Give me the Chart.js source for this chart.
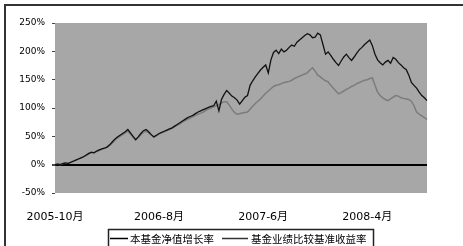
<!DOCTYPE html>
<html>
<head>
<meta charset="utf-8">
<script src="https://cdn.jsdelivr.net/npm/chart.js@4/dist/chart.umd.min.js"></script>
<style>
  html, body { margin: 0; padding: 0; background: #fff; }
  #wrap { width: 463px; height: 246px; position: relative; }
</style>
</head>
<body>
<div id="wrap"><canvas id="myChart"></canvas></div>
<script>
// weekly values, % since start
let fundName = "本基金净值增长率";
let benchName = "基金业绩比较基准收益率";
let tickLabels = ["2005-10月", "2006-8月", "2007-6月", "2008-4月"];
let tickEvery = 40;
let yTicks = [-50, 0, 50, 100, 150, 200, 250];

let fund = [
  0, 1, 0, 2, 3, 2, 4, 6, 8, 10, 12, 14, 17, 20, 22, 21, 24, 26, 28, 29,
  31, 35, 40, 45, 49, 52, 55, 58, 62, 56, 50, 44, 49, 55, 60, 62, 58, 53, 49, 52,
  55, 57, 59, 61, 63, 65, 68, 71, 74, 77, 80, 83, 85, 87, 90, 93, 95, 97, 99, 101,
  103, 104, 112, 95, 115, 124, 131, 126, 121, 118, 114, 107, 113, 119, 122, 140, 148, 155, 161, 167,
  172, 176, 162, 185, 198, 202, 196, 204, 199, 202, 207, 211, 209, 216, 220, 224, 228, 231, 229, 224,
  225, 232, 229, 212, 195, 199, 193, 186, 180, 175, 183, 190, 195, 189, 184, 190, 197, 203, 207, 212,
  216, 220, 210, 195, 185, 180, 176, 181, 184, 179, 189, 186, 180, 176, 171, 168, 158, 145, 140, 135,
  128, 122, 118, 113
];

let bench = [
  0, 1, 0, 2, 3, 3, 4, 6, 8, 10, 12, 14, 16, 19, 21, 21, 23, 25, 27, 29,
  31, 34, 38, 43, 47, 50, 53, 56, 59, 54, 49, 44, 48, 53, 57, 59, 56, 52, 49, 51,
  54, 56, 58, 60, 62, 64, 67, 70, 72, 75, 78, 80, 82, 85, 87, 89, 91, 93, 96, 98,
  100, 102, 104, 106, 109, 111, 111, 105, 98, 92, 89, 90, 91, 92, 93, 98, 103, 108, 112, 116,
  121, 126, 130, 134, 138, 140, 141, 143, 145, 146, 147, 149, 152, 154, 156, 158, 160, 162, 167, 171,
  165, 158, 155, 151, 148, 146, 140, 135, 130, 125, 127, 130, 133, 135, 138, 140, 143, 145, 147, 149,
  150, 152, 153, 140, 128, 122, 118, 115, 113, 116, 119, 122, 121, 118, 117, 116, 115, 112, 104, 93,
  89, 86, 83, 80
];

let labels = fund.map((v, i) => i);

// grey plot area + frame + boxed legend
const decor = {
  id: 'decor',
  beforeDraw(chart) {
    const {ctx, chartArea: a} = chart;
    ctx.save();
    ctx.fillStyle = '#a7a7a7';
    ctx.fillRect(a.left, a.top, a.right - a.left, a.bottom - a.top);
    ctx.restore();
  },
  afterDraw(chart) {
    const ctx = chart.ctx;
    ctx.save();
    // outer frame
    ctx.strokeStyle = '#333';
    ctx.lineWidth = 2;
    ctx.beginPath();
    ctx.moveTo(5, 260);
    ctx.lineTo(5, 5);
    ctx.lineTo(470, 5);
    ctx.stroke();
    // legend box
    ctx.lineWidth = 1.5;
    ctx.strokeStyle = '#222';
    ctx.strokeRect(108.5, 229.5, 265, 30);
    const ds = chart.data.datasets;
    const items = [[110, 128, 130], [222, 248, 251]];
    ctx.font = '10.5px "Noto Sans CJK SC", sans-serif';
    ctx.textBaseline = 'middle';
    ctx.fillStyle = '#000';
    items.forEach((it, i) => {
      ctx.strokeStyle = i == 0 ? '#000' : '#333';
      ctx.lineWidth = 1.5;
      ctx.beginPath();
      ctx.moveTo(it[0], 238.5);
      ctx.lineTo(it[1], 238.5);
      ctx.stroke();
      ctx.fillText(ds[i].label, it[2], 239);
    });
    ctx.restore();
  }
};

var chart = new Chart(document.getElementById('myChart'), {
  type: 'line',
  data: {
    labels: labels,
    datasets: [{
      label: fundName,
      data: fund,
      borderColor: '#111',
      borderWidth: 1.3,
      pointRadius: 0,
      tension: 0
    }, {
      label: benchName,
      data: bench,
      borderColor: '#7c7c7c',
      borderWidth: 1.5,
      pointRadius: 0,
      tension: 0
    }]
  },
  options: {
    responsive: true,
    maintainAspectRatio: false,
    animation: false,
    events: [],
    layout: { padding: { top: 23, right: 36, left: 0, bottom: 23 } },
    plugins: { legend: { display: false }, tooltip: { enabled: false } },
    scales: {
      x: {
        type: 'category',
        offset: false,
        border: { display: false },
        grid: { display: false },
        afterFit: s => { s.height = 30; },
        ticks: {
          autoSkip: false,
          maxRotation: 0,
          padding: 10,
          color: '#000',
          font: { family: '"DejaVu Sans", "Noto Sans CJK SC", sans-serif', size: 11 },
          callback: (v, i) => i % tickEvery === 0 ? tickLabels[i / tickEvery] : null
        }
      },
      y: {
        min: yTicks[0],
        max: yTicks[yTicks.length - 1],
        afterFit: s => { s.width = 55; },
        afterBuildTicks: s => { s.ticks = yTicks.map(v => ({value: v})); },
        border: { display: false },
        grid: {
          drawOnChartArea: true,
          drawTicks: true,
          tickLength: 3,
          tickColor: '#444',
          color: c => c.tick && c.tick.value === 0 ? '#000' : 'rgba(0,0,0,0)',
          lineWidth: c => c.tick && c.tick.value === 0 ? 2 : 1
        },
        ticks: {
          padding: 7,
          color: '#000',
          font: { family: '"DejaVu Sans", sans-serif', size: 9 },
          callback: v => v + '%'
        }
      }
    }
  },
  plugins: [decor]
});
</script>
</body>
</html>
